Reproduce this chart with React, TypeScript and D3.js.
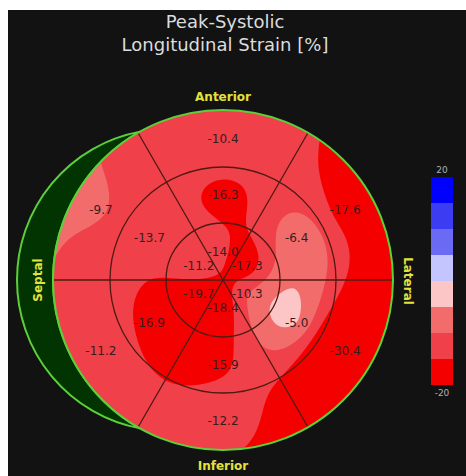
import React from "react";
import * as d3 from "d3";

// ---- data ----
const titleLines = ["Peak-Systolic", "Longitudinal Strain [%]"];
const wallLabels = ["Anterior", "Lateral", "Inferior", "Septal"];
const segmentAngles = [90, 30, -30, -90, -150, 150]; // ant, antlat, inflat, inf, infsept, antsept
const basalValues = [-10.4, -17.6, -30.4, -12.2, -11.2, -9.7];
const midValues = [-16.3, -6.4, -5.0, -15.9, -16.9, -13.7];
const apicalValues = [-14.0, -17.3, -10.3, -18.4, -19.7, -11.2];
const binEdges = [20, 15, 10, 5, 0, -5, -10, -15, -20];
const binColors = ["#0000ff", "#3c3cf2", "#6a6af5", "#c4c4ff", "#fcc6c6", "#f26c6c", "#f0404a", "#f50000"];
const scaleTicks = [20, -20];

// ---- layout ----
const W = 466;
const H = 476;
const cx = 223;
const cy = 280;
const R = 170;
const ringRadii = [57, 113, 170];
const labelRadii = [28, 85, 141];
const edgeRadius = 178; // rim boundary condition for the colour map
const septCx = 168;
const septR = 151;

function solve(A: number[][], b: number[]) {
  const n = b.length;
  const M = A.map((row, i) => [...row, b[i]]);
  for (let c = 0; c < n; c++) {
    let piv = c;
    for (let r = c + 1; r < n; r++) if (Math.abs(M[r][c]) > Math.abs(M[piv][c])) piv = r;
    [M[c], M[piv]] = [M[piv], M[c]];
    for (let r = 0; r < n; r++) {
      if (r === c) continue;
      const f = M[r][c] / M[c][c];
      for (let k = c; k <= n; k++) M[r][k] -= f * M[c][k];
    }
  }
  return M.map((row, i) => row[n] / row[i]);
}

export default function App() {
  const rad = (a: number) => (a * Math.PI) / 180;
  const rings = [apicalValues, midValues, basalValues];
  const pts = rings.flatMap((vals, ri) =>
    vals.map((v, i) => ({
      x: labelRadii[ri] * Math.cos(rad(segmentAngles[i])),
      y: -labelRadii[ri] * Math.sin(rad(segmentAngles[i])),
      v,
      ri,
      i,
    }))
  );
  const nb = basalValues.length;
  const knots = [
    ...pts,
    ...basalValues.map((v, i) => ({
      x: edgeRadius * Math.cos(rad(segmentAngles[i])),
      y: -edgeRadius * Math.sin(rad(segmentAngles[i])),
      v: 0.7 * v + 0.15 * basalValues[(i + 1) % nb] + 0.15 * basalValues[(i + nb - 1) % nb],
    })),
  ];

  // thin-plate spline through the segment values for the colour map
  const s = 100;
  const phi = (d2: number) => (d2 < 1e-12 ? 0 : 0.5 * d2 * Math.log(d2));
  const m = knots.length;
  const A: number[][] = [];
  const b: number[] = [];
  for (let i = 0; i < m; i++) {
    const row: number[] = [];
    for (let j = 0; j < m; j++) {
      const d2 = ((knots[i].x - knots[j].x) ** 2 + (knots[i].y - knots[j].y) ** 2) / (s * s);
      row.push(phi(d2));
    }
    row.push(1, knots[i].x / s, knots[i].y / s);
    A.push(row);
    b.push(knots[i].v);
  }
  for (let k = 0; k < 3; k++) {
    const row: number[] = [];
    for (let j = 0; j < m; j++) row.push(k === 0 ? 1 : k === 1 ? knots[j].x / s : knots[j].y / s);
    row.push(0, 0, 0);
    A.push(row);
    b.push(0);
  }
  const coef = solve(A, b);

  const step = 2;
  const half = R + 4;
  const n = Math.ceil((2 * half) / step);
  const grid = new Array(n * n);
  for (let j = 0; j < n; j++) {
    for (let i = 0; i < n; i++) {
      const x = -half + (i + 0.5) * step;
      const y = -half + (j + 0.5) * step;
      let v = coef[m] + coef[m + 1] * (x / s) + coef[m + 2] * (y / s);
      for (let k = 0; k < m; k++) {
        const d2 = ((x - knots[k].x) ** 2 + (y - knots[k].y) ** 2) / (s * s);
        v += coef[k] * phi(d2);
      }
      grid[j * n + i] = v;
    }
  }
  const thresholds = binEdges.slice(1, -1).slice().reverse();
  const contours = d3.contours().size([n, n]).thresholds(thresholds)(grid);
  const path = d3.geoPath(d3.geoIdentity().scale(step).translate([cx - half, cy - half]) as any);
  const colorFor = (t: number) => {
    const k = binEdges.findIndex((e, idx) => binEdges[idx + 1] === t);
    return binColors[k];
  };

  // septal crescent
  const ix = (R * R - septR * septR - cx * cx + septCx * septCx) / (2 * (septCx - cx));
  const iy = Math.sqrt(R * R - (ix - cx) ** 2);
  const crescent = `M${ix},${cy - iy} A${septR},${septR} 0 0 0 ${ix},${cy + iy} A${R},${R} 0 0 1 ${ix},${cy - iy} Z`;

  const yScale = d3.scaleLinear().domain([20, -20]).range([177, 385]);
  const green = "#5ccf3a";
  const lineColor = "#4e1a12";
  const yellow = "#e2e23a";

  return (
    <svg width={W} height={H} style={{ position: "absolute", left: 0, top: 0, display: "block" }}
      fontFamily="'DejaVu Sans', Verdana, sans-serif">
      <rect x={0} y={0} width={W} height={H} fill="#ffffff" />
      <rect x={8} y={10} width={W - 8} height={H - 10} fill="#121212" />
      {titleLines.map((t, i) => (
        <text key={t} x={225} y={28 + i * 23} textAnchor="middle" fill="#dcdcdc" fontSize={18}>{t}</text>
      ))}
      <defs>
        <clipPath id="bull"><circle cx={cx} cy={cy} r={R} /></clipPath>
      </defs>
      <path d={crescent} fill="#023402" stroke={green} strokeWidth={2} />
      <g clipPath="url(#bull)">
        <circle cx={cx} cy={cy} r={R} fill={binColors[binColors.length - 1]} />
        {contours.map((c) => (
          <path key={c.value} d={path(c as any) || ""} fill={colorFor(c.value)} />
        ))}
        {[0, 60, 120].map((a) => (
          <line key={a}
            x1={cx + R * Math.cos(rad(a))} y1={cy - R * Math.sin(rad(a))}
            x2={cx - R * Math.cos(rad(a))} y2={cy + R * Math.sin(rad(a))}
            stroke={lineColor} strokeWidth={1.3} />
        ))}
        {ringRadii.slice(0, 2).map((r) => (
          <circle key={r} cx={cx} cy={cy} r={r} fill="none" stroke={lineColor} strokeWidth={1.3} />
        ))}
      </g>
      <circle cx={cx} cy={cy} r={R} fill="none" stroke={green} strokeWidth={2} />
      {pts.map((p) => (
        <text key={`${p.ri}-${p.i}`} x={cx + p.x} y={cy + p.y} textAnchor="middle" dominantBaseline="central"
          fontSize={12} fill="#3a1c1c">{p.v.toFixed(1)}</text>
      ))}
      <text x={cx} y={97} textAnchor="middle" dominantBaseline="central" fontWeight="bold" fontSize={12} fill={yellow}>{wallLabels[0]}</text>
      <text transform={`translate(408,281) rotate(90)`} textAnchor="middle" dominantBaseline="central" fontWeight="bold" fontSize={12} fill={yellow}>{wallLabels[1]}</text>
      <text x={cx} y={466} textAnchor="middle" dominantBaseline="central" fontWeight="bold" fontSize={12} fill={yellow}>{wallLabels[2]}</text>
      <text transform={`translate(38,280) rotate(-90)`} textAnchor="middle" dominantBaseline="central" fontWeight="bold" fontSize={12} fill={yellow}>{wallLabels[3]}</text>
      {binColors.map((c, k) => (
        <rect key={c} x={431} y={yScale(binEdges[k])} width={22} height={yScale(binEdges[k + 1]) - yScale(binEdges[k])} fill={c} />
      ))}
      {scaleTicks.map((t) => (
        <text key={t} x={442} y={t > 0 ? yScale(t) - 7 : yScale(t) + 8} textAnchor="middle" dominantBaseline="central"
          fontSize={9} fill="#b0b0b0">{t}</text>
      ))}
    </svg>
  );
}
